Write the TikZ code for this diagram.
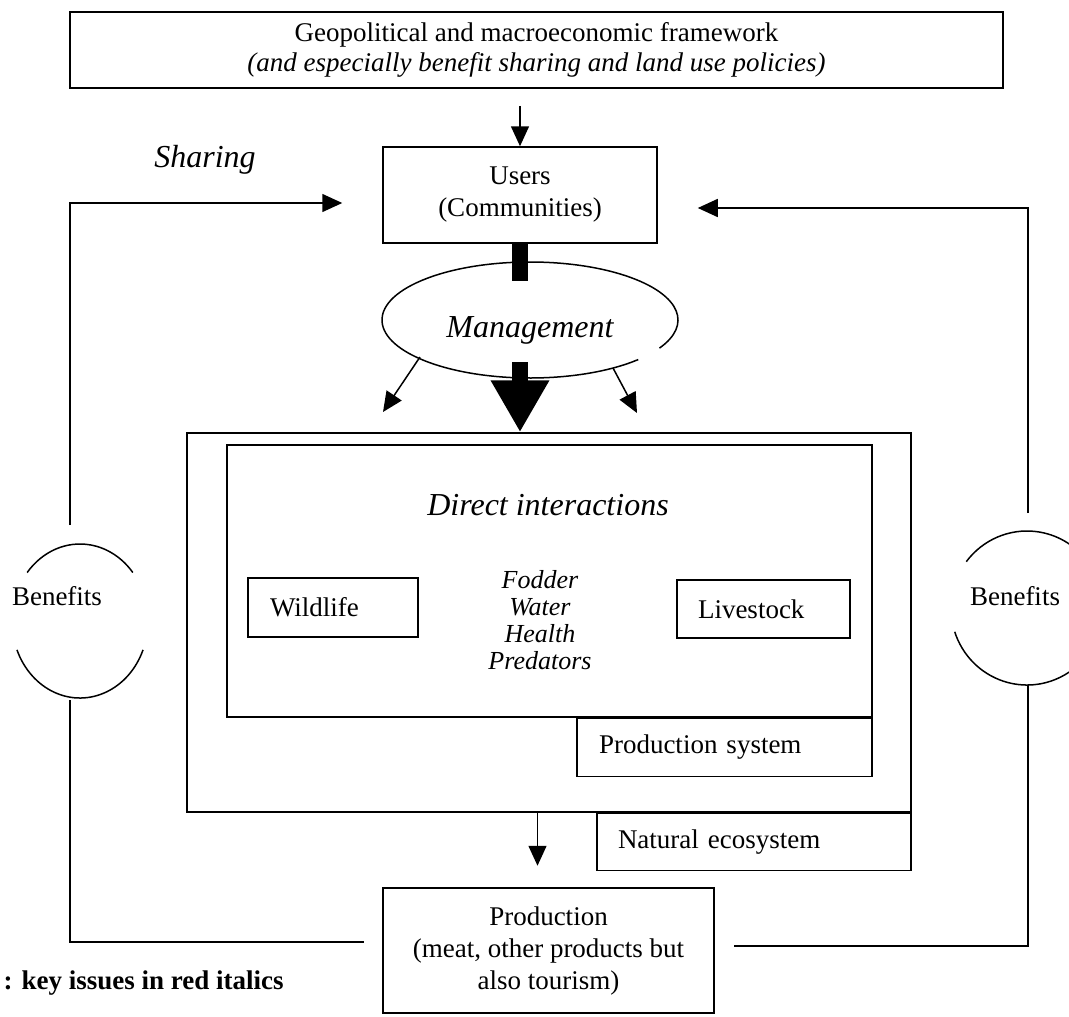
\documentclass[tikz,border=0pt]{standalone}
\usepackage{fontspec}
\setmainfont{Liberation Serif}
\usetikzlibrary{arrows.meta,shapes.geometric}

\tikzset{
  box/.style={draw, line width=1.5pt, align=center, inner sep=0pt},
  arr/.style={line width=1.5pt, -{Triangle[length=20pt,width=18pt]}},
  link/.style={line width=1.5pt},
  big/.style={font=\fontsize{32}{36}\selectfont\itshape},
}

\begin{document}
\begin{tikzpicture}[x=1pt,y=-1pt,font=\fontsize{27}{32}\selectfont]
\useasboundingbox (0,0) rectangle (1069,1017);

% framework and users
\node[box, minimum width=933pt, minimum height=76pt, font=\fontsize{27}{30}\selectfont] (frame) at (536.5,50)
  {Geopolitical and macroeconomic framework\\ \textit{(and especially benefit sharing and land use policies)}};
\node[big] (sharing) at (205,160) {Sharing};
\node[box, minimum width=274pt, minimum height=96pt] (users) at (520,195) {Users\\(Communities)};
\draw[arr] ([yshift=-17pt]frame.south -| users.north) -- (users.north);

% management
\node[ellipse, minimum width=296pt, minimum height=116pt, inner sep=0pt] (mgmt) at (530,320) {};
\draw[link] (mgmt.center) ++(43:148 and 58) arc[start angle=43, end angle=389, x radius=148, y radius=58];
\node[big] (mgmttxt) at ([yshift=-10pt]mgmt.center) {Management};
\draw[line width=16pt] (users.south) -- ++(0,37);

% systems
\node[box, minimum width=724pt, minimum height=379pt] (eco) at (549,622.5) {};
\node[box, minimum width=645pt, minimum height=272pt] (inner) at (549.5,581) {};
\node[box, anchor=north east, minimum width=295pt, minimum height=58pt, text width=251pt, align=left] (prodsys) at (inner.south east) {Production system};
\node[box, anchor=north east, minimum width=314pt, minimum height=57pt, text width=272pt, align=left] (natsys) at (eco.south east) {Natural ecosystem};
\node[big] (direct) at (548,505) {Direct interactions};
\node[box, minimum width=170pt, minimum height=59pt, text width=126pt, align=left] (wild) at (333,607.5) {Wildlife};
\node[box, minimum width=173pt, minimum height=58pt, text width=131pt, align=left] (live) at (763.5,609) {Livestock};
\node[font=\fontsize{26}{27}\selectfont\itshape, align=center] (issues) at (540,620) {Fodder\\Water\\Health\\Predators};

\draw[line width=16pt, -{Triangle[length=52pt,width=55pt]}] ([yshift=16pt]mgmt.south -| users.south) -- (eco.north -| users.south);
\coordinate (mgL) at (420,357);
\coordinate (mgLtip) at (383,412);
\coordinate (mgR) at (613,368);
\coordinate (mgRtip) at (637,413);
\draw[arr] (mgL) -- (mgLtip);
\draw[arr] (mgR) -- (mgRtip);

% production
\node[box, minimum width=331pt, minimum height=125pt] (prod) at (548.5,950.5)
  {Production\\(meat, other products but\\also tourism)};
\draw[arr] ([xshift=-11pt]eco.south -| prod.north) -- ++(0,53);

% benefits loops
\node[ellipse, minimum width=136pt, minimum height=154pt, inner sep=0pt] (benL) at (80,621) {};
\draw[link] (benL.center) ++(219:68 and 77) arc[start angle=219, end angle=321, x radius=68, y radius=77];
\draw[link] (benL.center) ++(22:68 and 77) arc[start angle=22, end angle=158, x radius=68, y radius=77];
\node (benLtxt) at (57,596) {Benefits};
\node[ellipse, minimum width=152pt, minimum height=154pt, inner sep=0pt] (benR) at (1027,608) {};
\draw[link] (benR.center) ++(217:76 and 77) arc[start angle=217, end angle=323, x radius=76, y radius=77];
\draw[link] (benR.center) ++(18:76 and 77) arc[start angle=18, end angle=162, x radius=76, y radius=77];
\node (benRtxt) at (1015,596) {Benefits};

\coordinate (lTop) at (70,525);
\coordinate (lBot) at (70,700);
\coordinate (rTop) at (1028,513);
\coordinate (rBot) at (1028,685);
\draw[arr] (lTop) |- ([xshift=-40pt,yshift=-8pt]users.west);
\draw[arr] (rTop) |- ([xshift=40pt,yshift=-13pt]users.east);
\draw[link] (lBot) |- ([xshift=-18pt,yshift=8.5pt]prod.west);
\draw[link] (rBot) |- ([xshift=19pt,yshift=4.5pt]prod.east);

\node[anchor=west, font=\fontsize{27}{32}\selectfont\bfseries] (note) at (0,983) {: key issues in red italics};
\end{tikzpicture}
\end{document}
